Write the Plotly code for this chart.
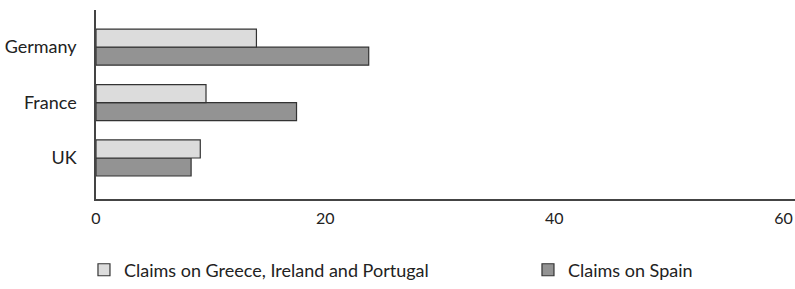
import plotly.graph_objects as go

categories = ["Germany", "France", "UK"]
claims_gip = [14.0, 9.6, 9.1]
claims_spain = [23.8, 17.5, 8.3]
x_ticks = [0, 20, 40, 60]

light = "#dcdcdc"
dark = "#939393"
edge = "#333333"

fig = go.Figure()
fig.add_trace(go.Bar(
    y=categories, x=claims_spain, orientation="h", name="Claims on Spain",
    marker=dict(color=dark, line=dict(color=edge, width=1.2)), legend="legend2",
))
fig.add_trace(go.Bar(
    y=categories, x=claims_gip, orientation="h", name="Claims on Greece, Ireland and Portugal",
    marker=dict(color=light, line=dict(color=edge, width=1.2)), legend="legend",
))

legend_common = dict(orientation="h", xanchor="left", y=-0.376, yanchor="middle",
                     font=dict(size=18, color="#222222"), bgcolor="rgba(0,0,0,0)")

fig.update_layout(
    width=795, height=289,
    margin=dict(l=96, r=0, t=10, b=90, autoexpand=False),
    paper_bgcolor="white", plot_bgcolor="white",
    barmode="group", bargap=0.35, bargroupgap=0,
    font=dict(family="Lato, sans-serif", color="#222222"),
    showlegend=True,
    legend=dict(x=-0.0172, **legend_common),
    legend2=dict(x=0.618, **legend_common),
    xaxis=dict(
        range=[0, 61], tickvals=x_ticks, showgrid=False, zeroline=False, automargin=False,
        showline=True, linecolor="#444444", linewidth=1.5,
        tickfont=dict(size=16, color="#222222"),
        ticklabelstandoff=4,
    ),
    yaxis=dict(
        categoryorder="array", categoryarray=["UK", "France", "Germany"], automargin=False,
        range=[-0.74, 2.67], showgrid=False, zeroline=False,
        showline=True, linecolor="#444444", linewidth=1.5,
        tickfont=dict(size=18, color="#222222"), ticklabelstandoff=14,
    ),
)

fig.write_html("out.html", config={"displayModeBar": False},
               post_script="document.body.style.margin='0';document.body.style.overflow='hidden';")
